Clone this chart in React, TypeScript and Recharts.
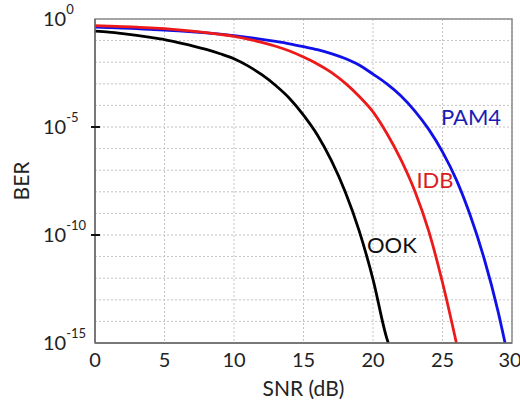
import React from 'react';
import { LineChart, Line, XAxis, YAxis, CartesianGrid, ReferenceArea, ReferenceDot } from 'recharts';

// SNR points (dB) and BER exponents (log10 BER)
const snrOok = [0, 1, 2, 3, 4, 5, 6, 7, 8, 9, 10, 11, 12, 13, 14, 15, 16, 17, 18, 19, 20, 21, 21.1];
const ookExp = [-0.56, -0.61, -0.68, -0.76, -0.85, -0.95, -1.09, -1.24, -1.41, -1.61, -1.84, -2.17, -2.58, -3.08, -3.68, -4.45, -5.37, -6.55, -8.0, -9.8, -12.05, -14.8, -15.0];

const snrIdb = [0, 1, 2, 3, 4, 5, 6, 7, 8, 9, 10, 11, 12, 13, 14, 15, 16, 17, 18, 19, 20, 21, 22, 23, 24, 25, 26];
const idbExp = [-0.31, -0.33, -0.35, -0.38, -0.41, -0.45, -0.5, -0.56, -0.63, -0.71, -0.8, -0.93, -1.08, -1.26, -1.48, -1.76, -2.08, -2.47, -2.97, -3.58, -4.3, -5.3, -6.5, -7.95, -9.8, -12.2, -15.0];

const snrPam4 = [0, 1, 2, 3, 4, 5, 6, 7, 8, 9, 10, 11, 12, 13, 14, 15, 16, 17, 18, 19, 20, 21, 22, 23, 24, 25, 26, 27, 28, 29, 29.5];
const pam4Exp = [-0.38, -0.4, -0.42, -0.45, -0.48, -0.51, -0.55, -0.59, -0.64, -0.7, -0.77, -0.85, -0.94, -1.04, -1.15, -1.28, -1.42, -1.6, -1.83, -2.13, -2.55, -3.0, -3.55, -4.25, -5.1, -6.15, -7.45, -9.1, -11.1, -13.55, -15.0];

const xTicks = [0, 5, 10, 15, 20, 25, 30];
const yTickExp = [0, -1, -2, -3, -4, -5, -6, -7, -8, -9, -10, -11, -12, -13, -14, -15];
const yLabelExp = [0, -5, -10, -15];

const toRows = (snr: number[], exp: number[]) =>
  snr.map((s, i) => ({ snr: s, ber: Math.pow(10, exp[i]) }));

const ookData = toRows(snrOok, ookExp);
const idbData = toRows(snrIdb, idbExp);
const pam4Data = toRows(snrPam4, pam4Exp);
const yTicks = yTickExp.map((e) => Math.pow(10, e));

function YTick(props: any) {
  const { y, payload } = props;
  const e = Math.round(Math.log10(payload.value));
  if (!yLabelExp.includes(e)) return <g />;
  return (
    <g>
      {e !== 0 && e !== -15 && (
        <line x1={91} x2={100} y1={y} y2={y} stroke="#111" strokeWidth={2} />
      )}
      <text x={43} y={y} dy={7} fontSize={20} fill="#222">
        10
        <tspan dy={-12} fontSize={13}>
          {e}
        </tspan>
      </text>
    </g>
  );
}

export default function App() {
  return (
    <div style={{ position: 'absolute', left: 0, top: 0, fontFamily: 'Lato, sans-serif' }}>
      <LineChart width={520} height={408} margin={{ top: 19, right: 8, bottom: 0, left: 0 }}>
        <CartesianGrid strokeDasharray="2 2" stroke="#c4c4c4" />
        <XAxis
          type="number"
          dataKey="snr"
          domain={[0, 30]}
          ticks={xTicks}
          allowDataOverflow
          height={65}
          tickLine={false}
          tickMargin={4}
          axisLine={{ stroke: '#6a6a6a', strokeWidth: 1.5 }}
          tick={{ fontSize: 20, fill: '#222' }}
          label={{ value: 'SNR (dB)', position: 'insideBottom', offset: 12, fontSize: 21, fill: '#222' }}
        />
        <YAxis
          type="number"
          scale="log"
          domain={[1e-15, 1]}
          ticks={yTicks}
          interval={0}
          allowDataOverflow
          width={95}
          tickLine={false}
          axisLine={{ stroke: '#6a6a6a', strokeWidth: 1.5 }}
          tick={<YTick />}
          label={{ value: 'BER', angle: -90, position: 'insideLeft', offset: 22, fontSize: 21, fill: '#222', style: { textAnchor: 'middle' } }}
        />
        <ReferenceArea x1={0} x2={30} y1={1e-15} y2={1} fill="none" stroke="#8a8a8a" strokeWidth={1.5} />
        <Line data={ookData} dataKey="ber" type="monotone" stroke="#000000" strokeWidth={2.8} dot={false} isAnimationActive={false} />
        <Line data={pam4Data} dataKey="ber" type="monotone" stroke="#1010e8" strokeWidth={2.8} dot={false} isAnimationActive={false} />
        <Line data={idbData} dataKey="ber" type="monotone" stroke="#ec1a1a" strokeWidth={2.8} dot={false} isAnimationActive={false} />
        <ReferenceDot x={27.05} y={Math.pow(10, -4.54)} r={0} fill="none" stroke="none" label={{ value: 'PAM4', position: 'center', fontSize: 22, fill: '#1c1cb8' }} />
        <ReferenceDot x={24.46} y={Math.pow(10, -7.45)} r={0} fill="none" stroke="none" label={{ value: 'IDB', position: 'center', fontSize: 22, fill: '#d81e1e' }} />
        <ReferenceDot x={21.36} y={Math.pow(10, -10.46)} r={0} fill="none" stroke="none" label={{ value: 'OOK', position: 'center', fontSize: 22, fill: '#111' }} />
      </LineChart>
    </div>
  );
}
